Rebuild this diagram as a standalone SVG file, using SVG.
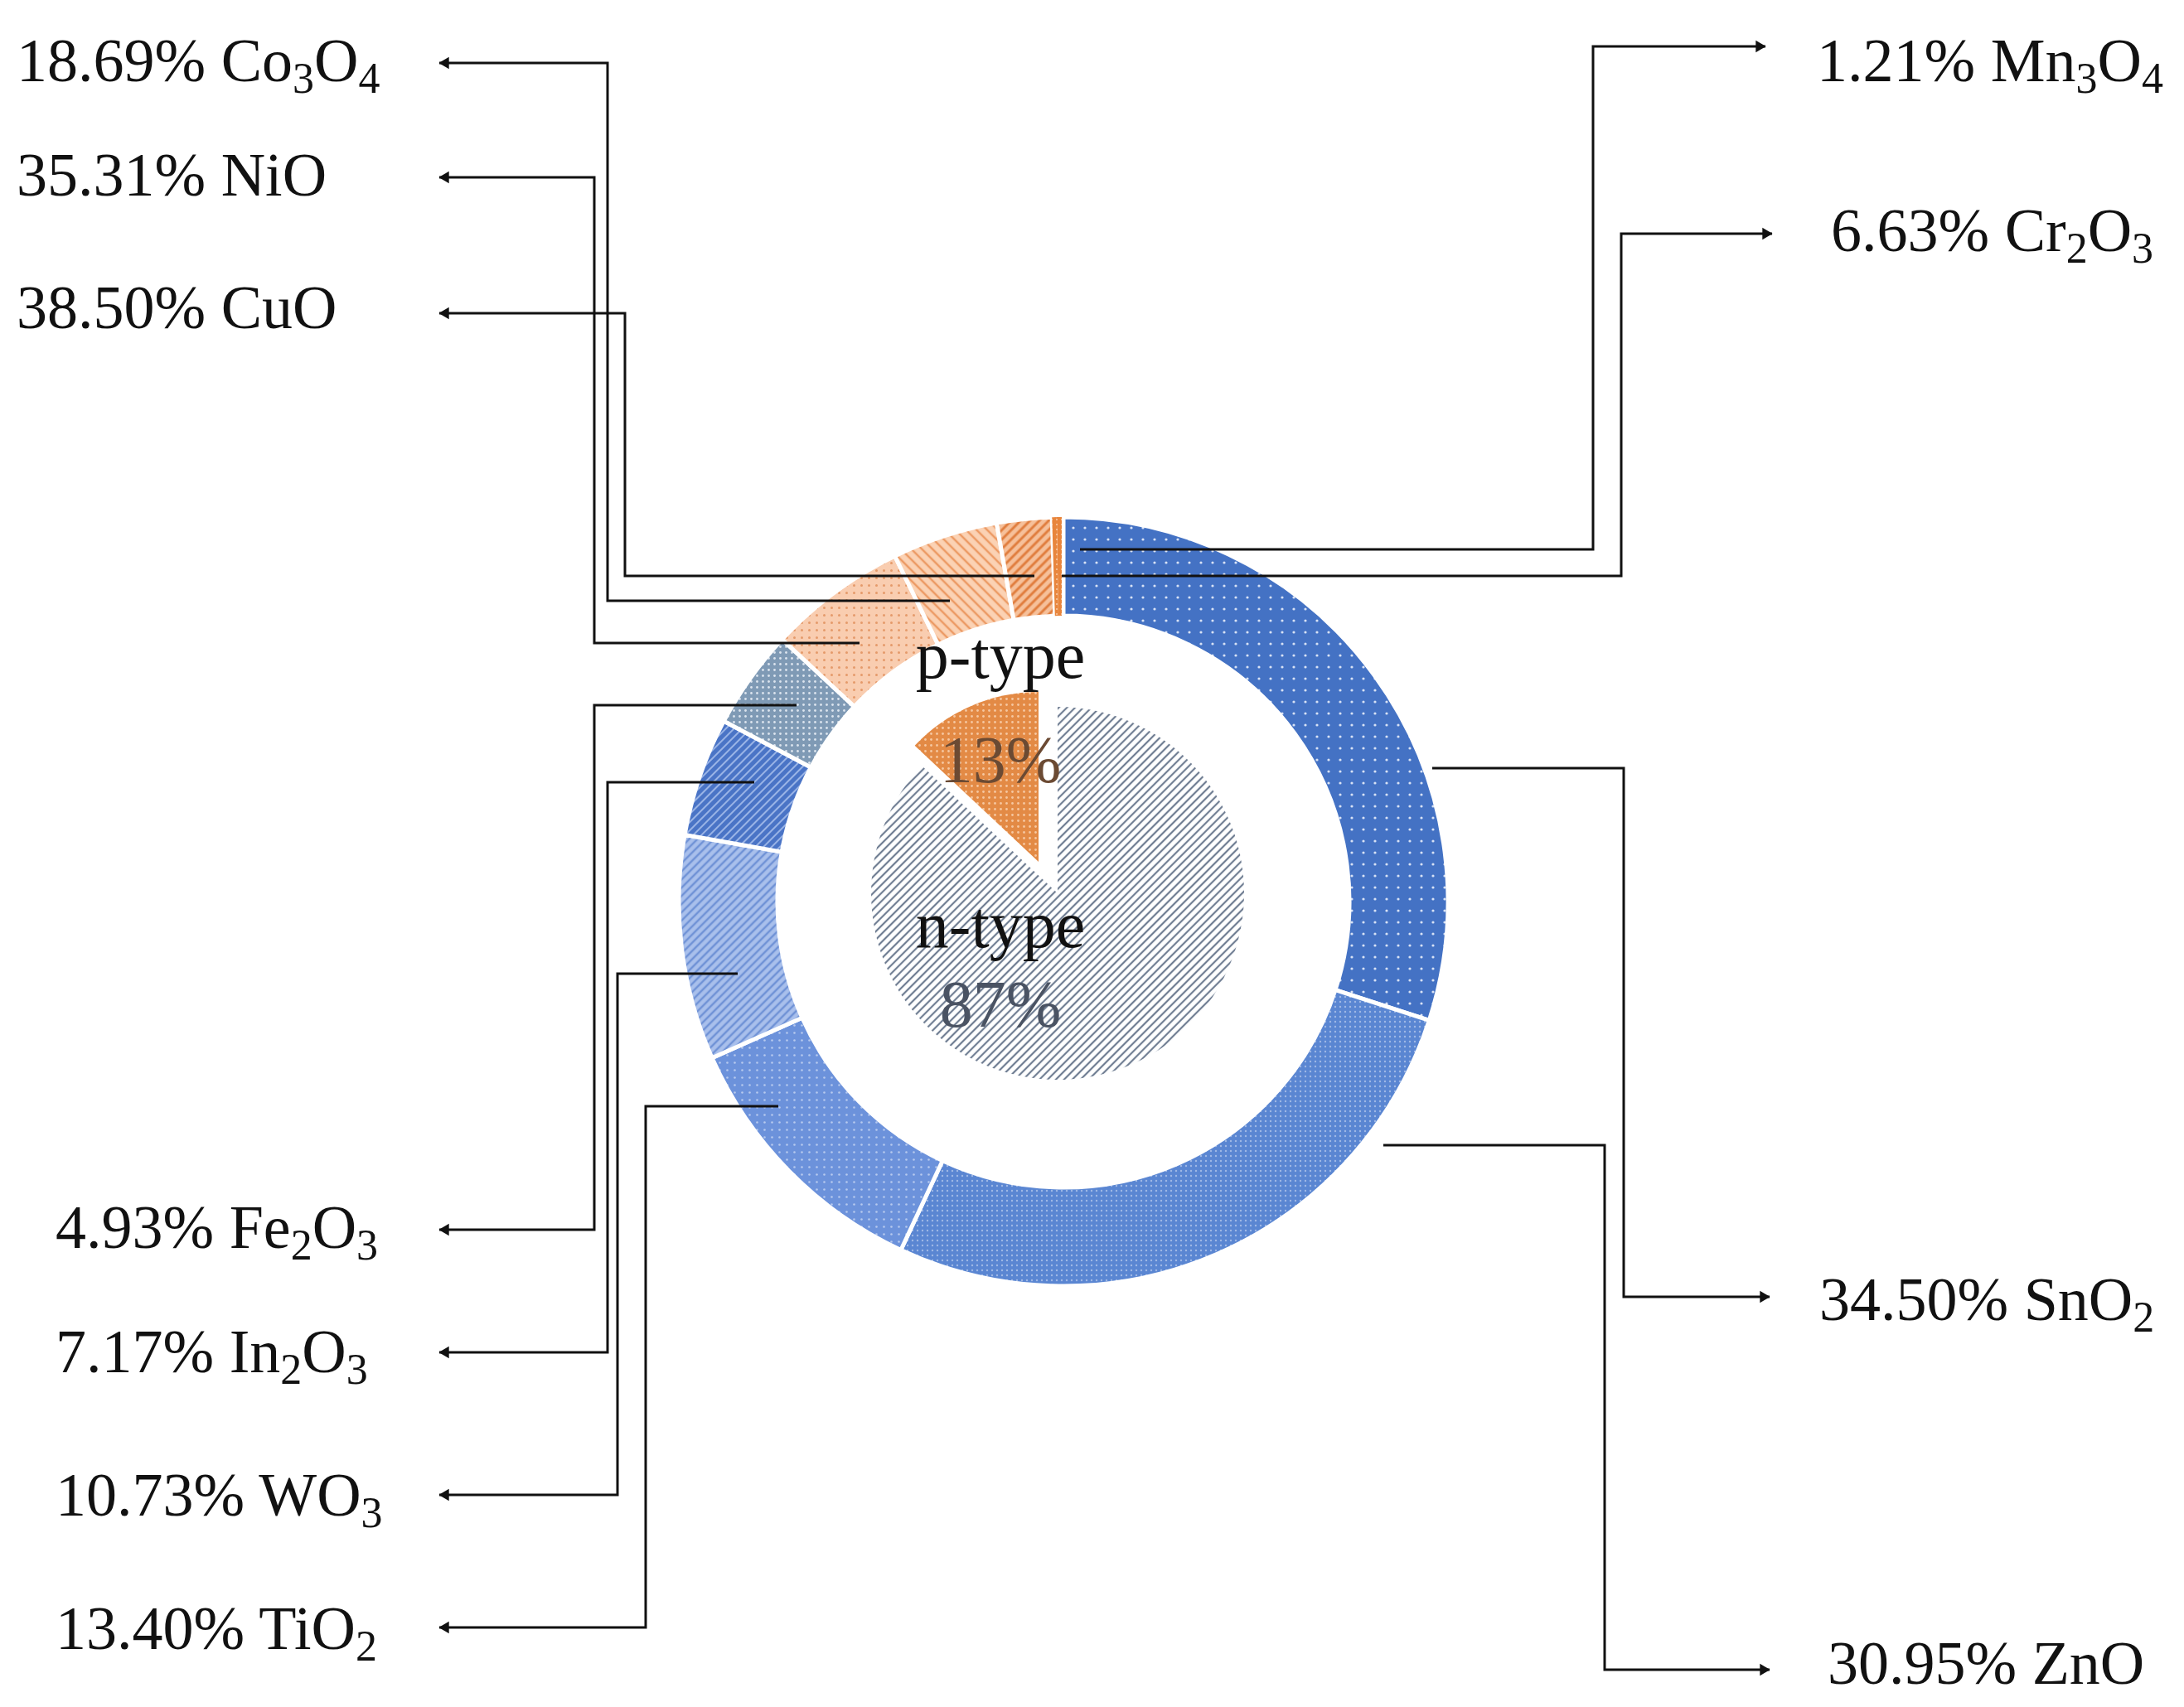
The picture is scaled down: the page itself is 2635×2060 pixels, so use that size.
<svg xmlns="http://www.w3.org/2000/svg" width="2635" height="2060" viewBox="0 0 2635 2060">
<defs>
<style>
.lbl{font-family:"Liberation Serif","Times New Roman",serif;font-size:74px;fill:#111}
.ctr{font-family:"Liberation Serif","Times New Roman",serif;font-size:80px;text-anchor:middle}
.seg{stroke:#fff;stroke-width:5}
.con{fill:none;stroke:#111;stroke-width:3}
</style>
<marker id="arr" viewBox="0 0 10 10" refX="9" refY="5" markerWidth="8" markerHeight="8" markerUnits="userSpaceOnUse" orient="auto" overflow="visible"><path d="M-12,-8 L10,5 L-12,18 Z" fill="#111" transform="scale(0.7) translate(4,2)"/></marker>
<pattern id="pSn" width="14" height="14" patternUnits="userSpaceOnUse"><rect width="14" height="14" fill="#4472C4"/><circle cx="7" cy="7" r="1.6" fill="#d8e2f5"/></pattern>
<pattern id="pZn" width="6" height="6" patternUnits="userSpaceOnUse"><rect width="6" height="6" fill="#5a86d2"/><circle cx="3" cy="3" r="1.2" fill="#9fb8e6"/></pattern>
<pattern id="pTi" width="9" height="9" patternUnits="userSpaceOnUse"><rect width="9" height="9" fill="#6c92db"/><circle cx="4.5" cy="4.5" r="1.3" fill="#b6c9ee"/></pattern>
<pattern id="pW" width="7" height="7" patternUnits="userSpaceOnUse" patternTransform="rotate(45)"><rect width="7" height="7" fill="#a9c0ec"/><line x1="2" y1="0" x2="2" y2="7" stroke="#6f92d6" stroke-width="2.5"/></pattern>
<pattern id="pIn" width="7" height="7" patternUnits="userSpaceOnUse" patternTransform="rotate(45)"><rect width="7" height="7" fill="#4a74c6"/><line x1="2" y1="0" x2="2" y2="7" stroke="#9ab4e6" stroke-width="2"/></pattern>
<pattern id="pFe" width="7" height="7" patternUnits="userSpaceOnUse"><rect width="7" height="7" fill="#7f9ab5"/><circle cx="3.5" cy="3.5" r="1.4" fill="#dbe4ee"/></pattern>
<pattern id="pCu" width="9" height="9" patternUnits="userSpaceOnUse"><rect width="9" height="9" fill="#f9cdb0"/><circle cx="4.5" cy="4.5" r="1.5" fill="#e59a6a"/></pattern>
<pattern id="pNi" width="9" height="9" patternUnits="userSpaceOnUse" patternTransform="rotate(-45)"><rect width="9" height="9" fill="#fbd2b4"/><line x1="3" y1="0" x2="3" y2="9" stroke="#ec9a64" stroke-width="2.5"/></pattern>
<pattern id="pCo" width="8" height="8" patternUnits="userSpaceOnUse" patternTransform="rotate(45)"><rect width="8" height="8" fill="#f6c09a"/><line x1="3" y1="0" x2="3" y2="8" stroke="#e07d3e" stroke-width="3"/></pattern>
<pattern id="pMn" width="6" height="6" patternUnits="userSpaceOnUse"><rect width="6" height="6" fill="#e8853c"/><circle cx="3" cy="3" r="1" fill="#f7c9a5"/></pattern>
<pattern id="pN" width="7" height="7" patternUnits="userSpaceOnUse" patternTransform="rotate(45)"><rect width="7" height="7" fill="#fff"/><line x1="2" y1="0" x2="2" y2="7" stroke="#6f7d92" stroke-width="2.2"/></pattern>
<pattern id="pP" width="7" height="7" patternUnits="userSpaceOnUse"><rect width="7" height="7" fill="#e38a45"/><circle cx="3.5" cy="3.5" r="1.4" fill="#f6c7a0"/></pattern>
</defs>
<rect width="2635" height="2060" fill="#fff"/>
<g id="donut">
<path id="SnO2" class="seg" fill="url(#pSn)" d="M1283,624 A464,464 0 0 1 1724.3,1231.4 L1611.1,1194.6 A345,345 0 0 0 1283,743 Z"/>
<path id="ZnO" class="seg" fill="url(#pZn)" d="M1724.3,1231.4 A464,464 0 0 1 1086.9,1508.5 L1137.2,1400.7 A345,345 0 0 0 1611.1,1194.6 Z"/>
<path id="TiO2" class="seg" fill="url(#pTi)" d="M1086.9,1508.5 A464,464 0 0 1 859.1,1276.7 L967.8,1228.3 A345,345 0 0 0 1137.2,1400.7 Z"/>
<path id="WO3" class="seg" fill="url(#pW)" d="M859.1,1276.7 A464,464 0 0 1 826.1,1007.4 L943.2,1028.1 A345,345 0 0 0 967.8,1228.3 Z"/>
<path id="In2O3" class="seg" fill="url(#pIn)" d="M826.1,1007.4 A464,464 0 0 1 873.3,870.2 L978.4,926 A345,345 0 0 0 943.2,1028.1 Z"/>
<path id="Fe2O3" class="seg" fill="url(#pFe)" d="M873.3,870.2 A464,464 0 0 1 943.6,771.6 L1030.7,852.7 A345,345 0 0 0 978.4,926 Z"/>
<path id="CuO" class="seg" fill="url(#pCu)" d="M943.6,771.6 A464,464 0 0 1 1079.6,671 L1131.8,777.9 A345,345 0 0 0 1030.7,852.7 Z"/>
<path id="NiO" class="seg" fill="url(#pNi)" d="M1079.6,671 A464,464 0 0 1 1202.4,631.1 L1223.1,748.2 A345,345 0 0 0 1131.8,777.9 Z"/>
<path id="Co3O4" class="seg" fill="url(#pCo)" d="M1202.4,631.1 A464,464 0 0 1 1269.2,624.2 L1272.8,743.2 A345,345 0 0 0 1223.1,748.2 Z"/>
<path id="Cr2O3" fill="url(#pMn)" d="M1269.2,624.2 A464,464 0 0 1 1274.9,624.1 L1277,743.1 A345,345 0 0 0 1272.8,743.2 Z"/>
<path id="Mn3O4" fill="url(#pMn)" d="M1274.9,624.1 A464,464 0 0 1 1281,624 L1281,743 A345,345 0 0 0 1277,743.1 Z"/>
</g>
<g id="pie">
<path id="n-type" fill="url(#pN)" d="M1276,1078 L1276,853 A225,225 0 1 1 1112,924 Z"/>
<path id="p-type" fill="url(#pP)" d="M1253,1040 L1103.6,899.7 A205,205 0 0 1 1253,835 Z"/>
<text class="ctr" x="1207" y="818" fill="#111">p-type</text>
<text class="ctr" x="1207" y="944" fill="#6b4a33">13%</text>
<text class="ctr" x="1207" y="1143" fill="#111">n-type</text>
<text class="ctr" x="1207" y="1239" fill="#4a5363">87%</text>
</g>
<g id="connectors">
<polyline class="con" marker-end="url(#arr)" points="1146,725 733,725 733,76 530,76"/>
<polyline class="con" marker-end="url(#arr)" points="1037,776 717,776 717,214 530,214"/>
<polyline class="con" marker-end="url(#arr)" points="1248,695 754,695 754,378 530,378"/>
<polyline class="con" marker-end="url(#arr)" points="961,851 717,851 717,1484 530,1484"/>
<polyline class="con" marker-end="url(#arr)" points="910,944 733,944 733,1632 530,1632"/>
<polyline class="con" marker-end="url(#arr)" points="890,1175 745,1175 745,1804 530,1804"/>
<polyline class="con" marker-end="url(#arr)" points="939,1335 779,1335 779,1964 530,1964"/>
<polyline class="con" marker-end="url(#arr)" points="1303,663 1922,663 1922,56 2130,56"/>
<polyline class="con" marker-end="url(#arr)" points="1281,695 1956,695 1956,282 2138,282"/>
<polyline class="con" marker-end="url(#arr)" points="1728,927 1959,927 1959,1565 2135,1565"/>
<polyline class="con" marker-end="url(#arr)" points="1669,1382 1936,1382 1936,2015 2135,2015"/>
</g>
<g id="labels">
<text class="lbl" x="20" y="98">18.69%  Co<tspan font-size="52" dy="14">3</tspan><tspan dy="-14">O</tspan><tspan font-size="52" dy="14">4</tspan></text>
<text class="lbl" x="20" y="236">35.31%  NiO</text>
<text class="lbl" x="20" y="396">38.50% CuO</text>
<text class="lbl" x="67" y="1506">4.93% Fe<tspan font-size="52" dy="14">2</tspan><tspan dy="-14">O</tspan><tspan font-size="52" dy="14">3</tspan></text>
<text class="lbl" x="67" y="1656">7.17%  In<tspan font-size="52" dy="14">2</tspan><tspan dy="-14">O</tspan><tspan font-size="52" dy="14">3</tspan></text>
<text class="lbl" x="67" y="1829">10.73% WO<tspan font-size="52" dy="14">3</tspan></text>
<text class="lbl" x="67" y="1990">13.40% TiO<tspan font-size="52" dy="14">2</tspan></text>
<text class="lbl" x="2192" y="98">1.21% Mn<tspan font-size="52" dy="14">3</tspan><tspan dy="-14">O</tspan><tspan font-size="52" dy="14">4</tspan></text>
<text class="lbl" x="2209" y="303">6.63% Cr<tspan font-size="52" dy="14">2</tspan><tspan dy="-14">O</tspan><tspan font-size="52" dy="14">3</tspan></text>
<text class="lbl" x="2195" y="1593">34.50% SnO<tspan font-size="52" dy="14">2</tspan></text>
<text class="lbl" x="2205" y="2032">30.95% ZnO</text>
</g>
</svg>
